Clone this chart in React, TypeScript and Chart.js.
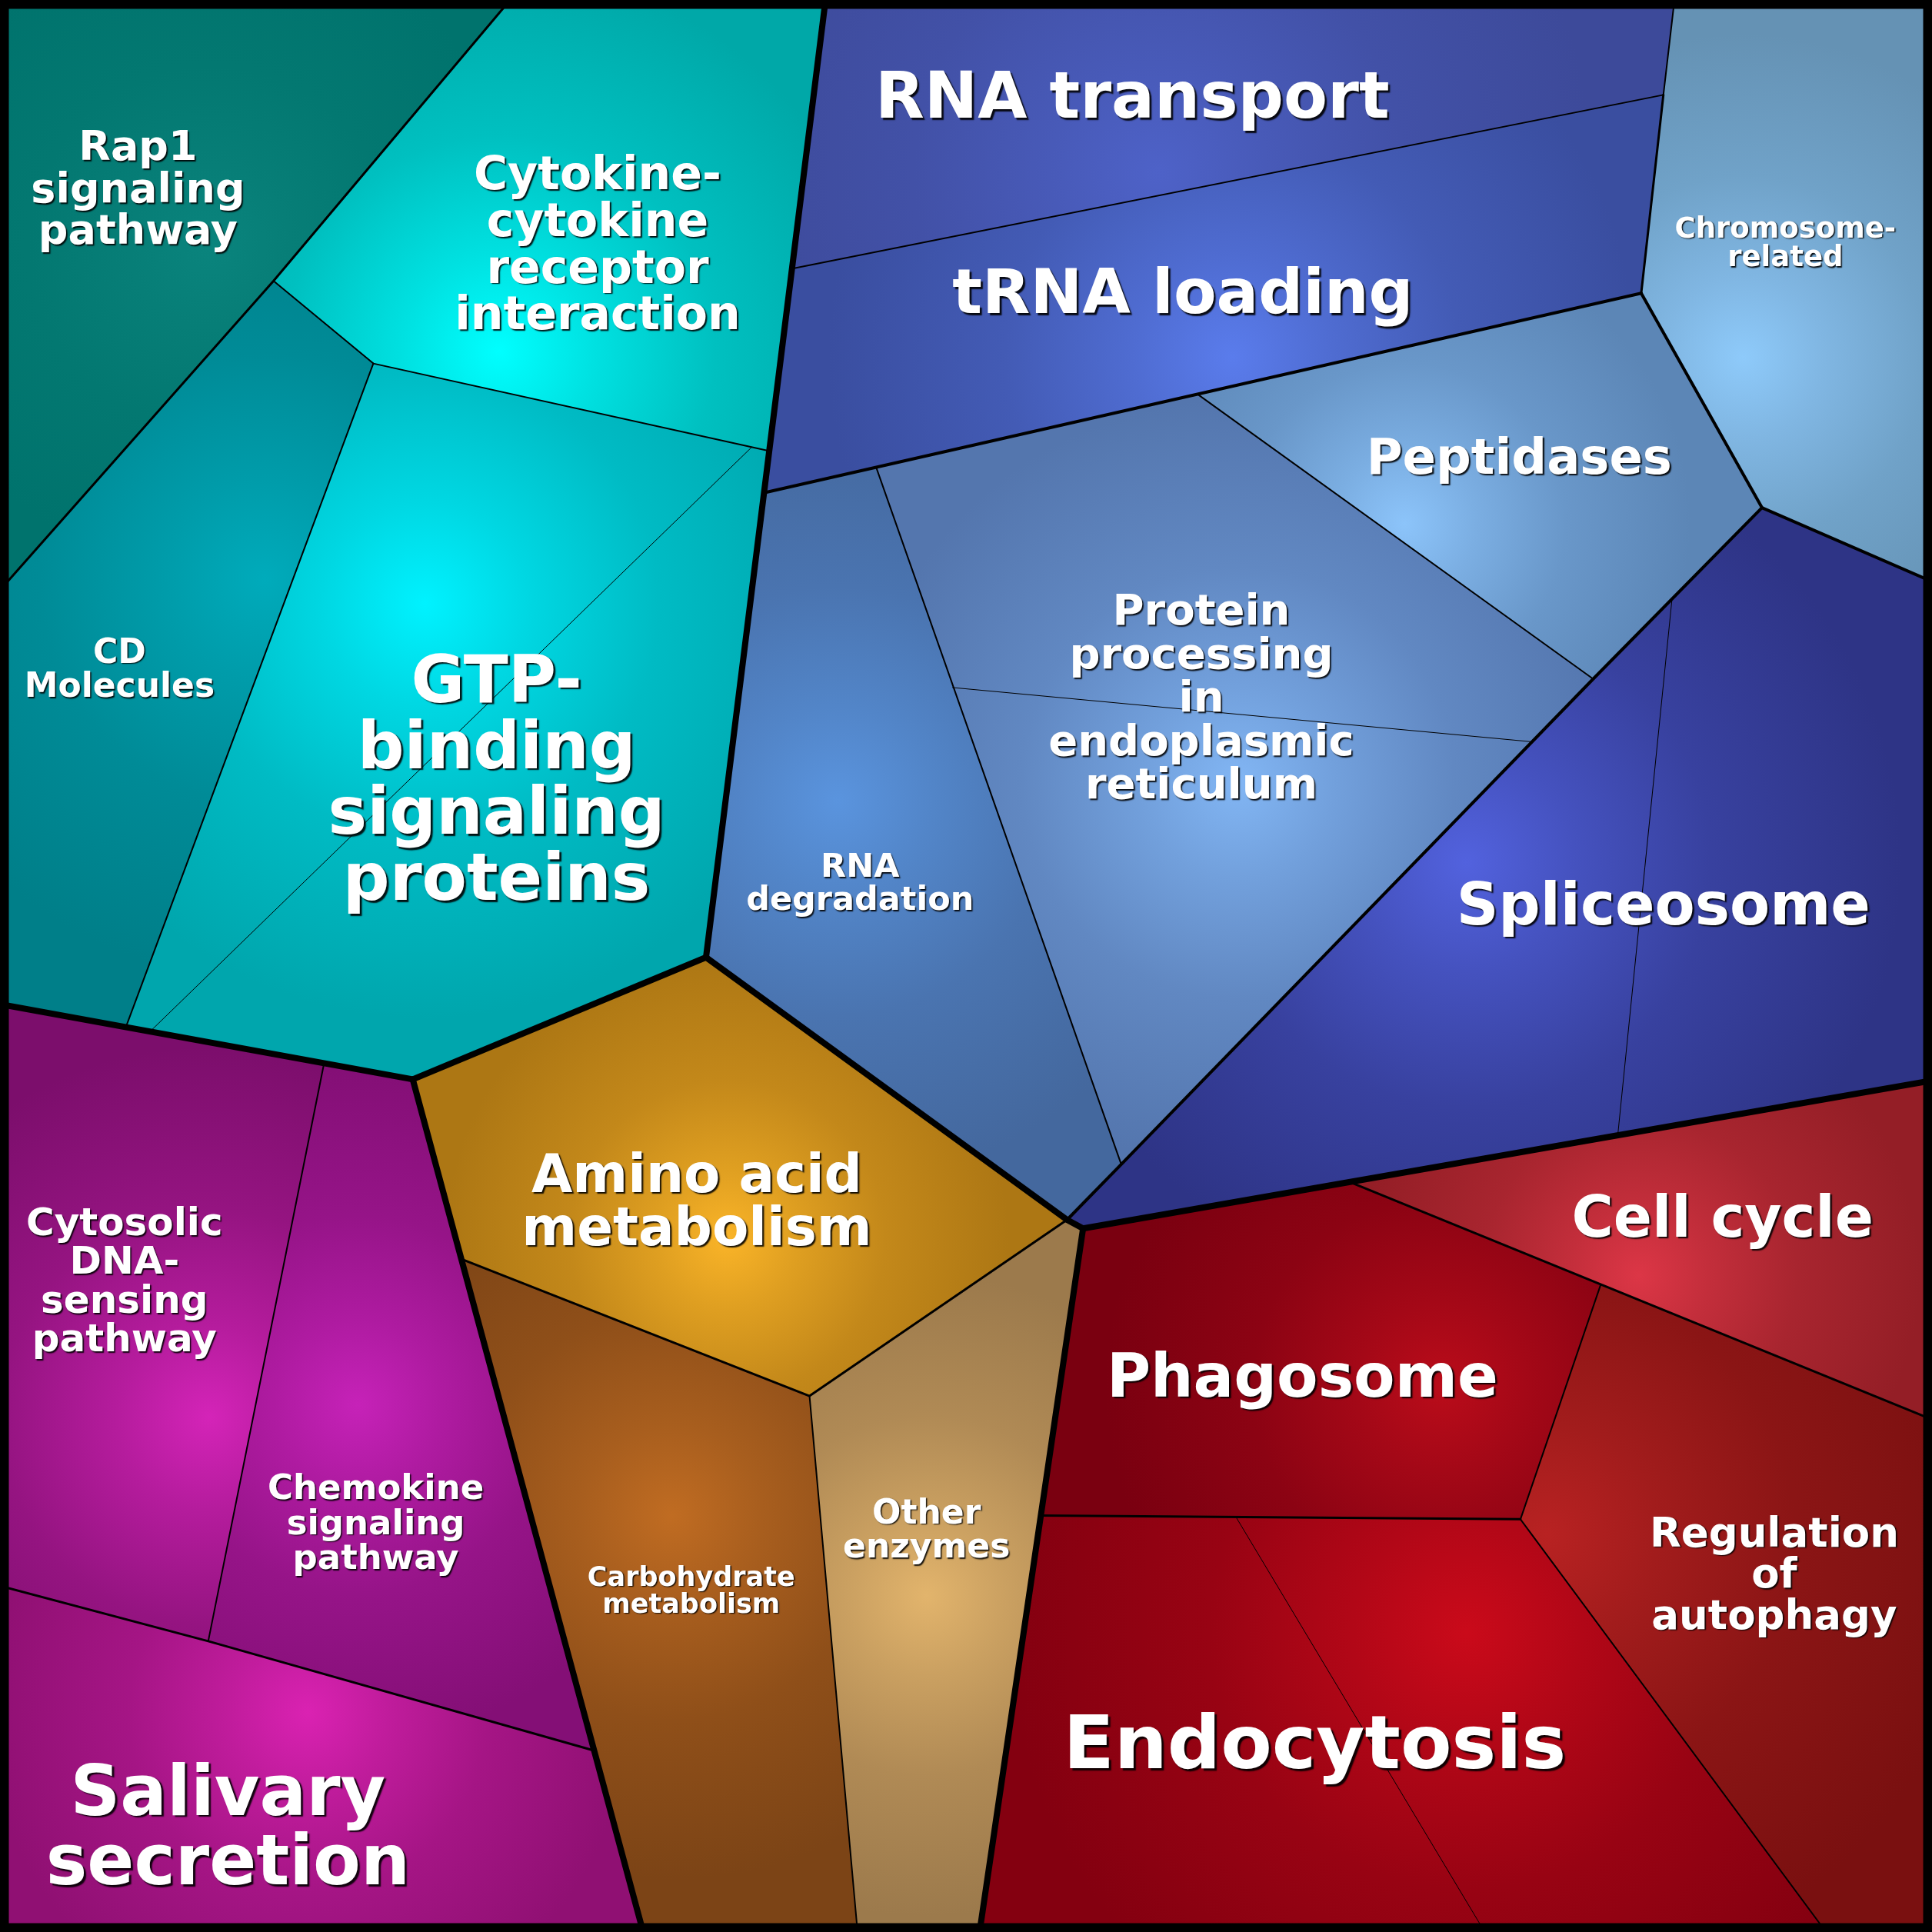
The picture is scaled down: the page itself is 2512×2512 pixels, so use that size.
import { useEffect, useRef } from "react";
import { Chart, registerables } from "chart.js";

Chart.register(...registerables);

// Coordinate space of the diagram (data units)
const VIEW = 1568;

// Voronoi vertices (data units)
const vertices: Record<string, [number, number]> = {
  TL: [0, 0], TR: [1568, 0], BR: [1568, 1568], BL: [0, 1568],
  A: [414, 0], B: [670, 0], C: [222, 228], D: [303, 295], E: [0, 479],
  F: [624, 366], G: [573, 777], H: [335, 876], I: [102, 834], J: [0, 815],
  K: [1359, 0], L: [1350, 77], M: [643, 218], N: [620, 400], O: [1332, 238],
  P: [972, 320], Q: [711, 379], R: [1430, 412], S: [1568, 472], T: [1293, 551],
  U: [910, 945], V: [866, 990], W: [879, 997], X: [1568, 877],
  Y: [657, 1133], Z: [375, 1022], AA: [522, 1568], AB: [696, 1568], AC: [795, 1568],
  AD: [263, 863], AE: [169, 1332], AF: [0, 1287], AG: [483, 1421],
  AH: [1097, 960], AI: [1299, 1043], AJ: [1568, 1152], AK: [1234, 1233],
  AL: [845, 1230], AM: [1482, 1568],
  g1: [122, 837], g2: [610, 363], p1: [773, 558], p2: [1243, 602],
  s1: [1357, 486], s2: [1313, 921], e1: [1003, 1231], e2: [1205, 1568],
};

const cellNames = [
  "Rap1 signaling pathway", "Cytokine-cytokine receptor interaction", "CD Molecules",
  "GTP-binding signaling proteins", "RNA transport", "tRNA loading", "Chromosome-related",
  "Peptidases", "Protein processing in endoplasmic reticulum", "RNA degradation",
  "Spliceosome", "Amino acid metabolism", "Carbohydrate metabolism", "Other enzymes",
  "Cytosolic DNA-sensing pathway", "Chemokine signaling pathway", "Salivary secretion",
  "Cell cycle", "Phagosome", "Endocytosis", "Regulation of autophagy",
];

const cellPolygons = [
  ["TL", "A", "C", "E"],
  ["A", "B", "F", "D", "C"],
  ["E", "C", "D", "I", "J"],
  ["D", "F", "G", "H", "I"],
  ["B", "K", "L", "M"],
  ["M", "L", "O", "P", "Q", "N"],
  ["K", "TR", "S", "R", "O", "L"],
  ["P", "O", "R", "T"],
  ["Q", "P", "T", "U"],
  ["N", "Q", "U", "V", "G"],
  ["T", "R", "S", "X", "W", "V", "U"],
  ["H", "G", "V", "Y", "Z"],
  ["Z", "Y", "AB", "AA"],
  ["Y", "V", "W", "AC", "AB"],
  ["J", "AD", "AE", "AF"],
  ["AD", "H", "AG", "AE"],
  ["AF", "AE", "AG", "AA", "BL"],
  ["AH", "X", "AJ", "AI"],
  ["W", "AH", "AI", "AK", "AL"],
  ["AL", "AK", "AM", "AC"],
  ["AI", "AJ", "BR", "AM", "AK"],
];

// gradient centres (data units)
const cellSites: [number, number][] = [
  [170, 200], [405, 285], [215, 470], [345, 490], [940, 140], [1000, 290], [1415, 290],
  [1140, 425], [1005, 635], [680, 650], [1190, 700], [590, 1005], [545, 1230], [752, 1295],
  [170, 1150], [290, 1140], [250, 1390], [1330, 1035], [1170, 1125], [1190, 1325], [1255, 1245],
];

const cellInner = [
  "#0a847d", "#00ffff", "#00abbb", "#00f2ff", "#4e62c8", "#5a7cec", "#8ecafa",
  "#8cc4fa", "#82b6f4", "#5a94de", "#5262de", "#fab428", "#c06c22", "#e2b46c",
  "#d424b8", "#c622b8", "#da22b2", "#dc3646", "#ba0c1a", "#ca0a1a", "#b82222",
];
const cellOuter = [
  "#00736d", "#00a8a8", "#007f89", "#00a6ad", "#3d4a9a", "#3a4ea0", "#6592b4",
  "#5c86b6", "#5476ae", "#44689e", "#2e3486", "#ad7714", "#7c4416", "#9c7a4c",
  "#7c0e6c", "#840f76", "#901073", "#941e26", "#7a0010", "#840010", "#7a1010",
];

// boundaries, drawn as polylines through vertices
const edgePaths = [
  ["g1", "g2"], ["p1", "p2"], ["s1", "s2"], ["e1", "e2"],
  ["M", "L"], ["K", "L"], ["P", "T"], ["Q", "U"], ["C", "D", "F"], ["D", "I"],
  ["AD", "AE"], ["Y", "AB"], ["AI", "AK", "AM"],
  ["L", "O"], ["A", "C", "E"], ["V", "Y", "Z"], ["AH", "AJ"], ["AL", "AK"], ["AF", "AE", "AG"],
  ["N", "O"], ["S", "R", "T", "U", "V"], ["O", "R"],
  ["J", "H", "G", "V", "W", "X"], ["B", "G"], ["H", "AA"], ["W", "AC"],
  ["TL", "TR", "BR", "BL", "TL"],
];
const edgeWidths = [
  1, 1, 1, 1,
  2, 2, 2, 2, 2, 2,
  2, 2, 2,
  3, 3, 3, 3, 3, 3,
  4, 4, 4,
  8, 8, 8, 8,
  23,
];

const labelLines = [
  ["Rap1", "signaling", "pathway"],
  ["Cytokine-", "cytokine", "receptor", "interaction"],
  ["CD", "Molecules"],
  ["GTP-", "binding", "signaling", "proteins"],
  ["RNA transport"],
  ["tRNA loading"],
  ["Chromosome-", "related"],
  ["Peptidases"],
  ["Protein", "processing", "in", "endoplasmic", "reticulum"],
  ["RNA", "degradation"],
  ["Spliceosome"],
  ["Amino acid", "metabolism"],
  ["Carbohydrate", "metabolism"],
  ["Other", "enzymes"],
  ["Cytosolic", "DNA-", "sensing", "pathway"],
  ["Chemokine", "signaling", "pathway"],
  ["Salivary", "secretion"],
  ["Cell cycle"],
  ["Phagosome"],
  ["Endocytosis"],
  ["Regulation", "of", "autophagy"],
];
const labelX = [112, 485, 97, 403, 919, 960, 1449, 1233, 975, 698, 1350, 565.5, 561, 752, 101, 305, 185, 1398, 1057, 1067, 1440];
const labelY = [152, 197, 542, 631, 77, 236, 196, 370, 565, 715.5, 733, 973.5, 1290, 1240.5, 1038.5, 1235, 1481, 987, 1116, 1413, 1276.5];
const labelSize = [54, 60, 44, 85, 83, 81, 37, 64, 56, 43, 76, 69, 35, 44, 50, 45, 90, 74, 78, 97, 53];

const pt = (id: string) => ({ x: vertices[id][0], y: vertices[id][1] });

function mixHex(a: string, b: string, t: number) {
  const pa = [1, 3, 5].map((k) => parseInt(a.slice(k, k + 2), 16));
  const pb = [1, 3, 5].map((k) => parseInt(b.slice(k, k + 2), 16));
  const m = pa.map((v, k) => Math.round(v + (pb[k] - v) * t));
  return `rgb(${m[0]},${m[1]},${m[2]})`;
}

const labelPlugin = {
  id: "cellLabels",
  afterDatasetsDraw(chart: any) {
    const ctx = chart.ctx;
    const xs = chart.scales.x;
    const ys = chart.scales.y;
    ctx.save();
    ctx.textAlign = "center";
    ctx.textBaseline = "alphabetic";
    ctx.fillStyle = "#ffffff";
    labelLines.forEach((lines, i) => {
      const size = labelSize[i];
      const lh = size * 1.01;
      const cx = xs.getPixelForValue(labelX[i]);
      const cy = ys.getPixelForValue(labelY[i]);
      ctx.font = `bold ${size}px "DejaVu Sans"`;
      ctx.shadowColor = "rgba(0,0,0,0.9)";
      const off = Math.max(1.5, size * 0.032);
      ctx.shadowOffsetX = off;
      ctx.shadowOffsetY = off;
      ctx.shadowBlur = 1.5;
      const n = lines.length;
      lines.forEach((t, k) => {
        const yMid = cy + (k - (n - 1) / 2) * lh;
        ctx.fillText(t, cx, yMid + size * 0.36);
      });
    });
    ctx.restore();
  },
};

export default function App() {
  const ref = useRef<HTMLCanvasElement | null>(null);
  useEffect(() => {
    document.body.style.margin = "0";
    document.body.style.background = "#000";
    if (!ref.current) return;

    const fillSets = cellPolygons.map((poly, i) => {
      const data = [...poly, poly[0]].map(pt);
      return {
        label: cellNames[i],
        data,
        showLine: true,
        fill: "shape",
        tension: 0,
        borderWidth: 0,
        borderColor: "rgba(0,0,0,0)",
        pointRadius: 0,
        order: 100,
        backgroundColor: (c: any) => {
          const chart = c.chart;
          if (!chart.chartArea) return cellInner[i];
          const xs = chart.scales.x;
          const ys = chart.scales.y;
          const sx = xs.getPixelForValue(cellSites[i][0]);
          const sy = ys.getPixelForValue(cellSites[i][1]);
          let r = 1;
          poly.forEach((id) => {
            const px = xs.getPixelForValue(vertices[id][0]);
            const py = ys.getPixelForValue(vertices[id][1]);
            r = Math.max(r, Math.hypot(px - sx, py - sy));
          });
          const g = chart.ctx.createRadialGradient(sx, sy, 0, sx, sy, r);
          g.addColorStop(0, cellInner[i]);
          g.addColorStop(0.2, mixHex(cellInner[i], cellOuter[i], 0.35));
          g.addColorStop(0.45, mixHex(cellInner[i], cellOuter[i], 0.72));
          g.addColorStop(0.8, cellOuter[i]);
          g.addColorStop(1, cellOuter[i]);
          return g;
        },
      };
    });

    const edgeSets = edgePaths.map((path, i) => ({
      label: "edge" + i,
      data: path.map(pt),
      showLine: true,
      fill: false,
      tension: 0,
      borderWidth: edgeWidths[i],
      borderColor: "#000000",
      backgroundColor: "#000000",
      borderCapStyle: "round",
      borderJoinStyle: edgeWidths[i] > 10 ? "miter" : "round",
      pointRadius: 0,
      order: 50 - edgeWidths[i],
    }));

    const chart = new Chart(ref.current, {
      type: "scatter",
      data: { datasets: [...fillSets, ...edgeSets] as any },
      options: {
        animation: false,
        responsive: false,
        devicePixelRatio: 1,
        events: [],
        layout: { padding: 0 },
        scales: {
          x: { type: "linear", min: 0, max: VIEW, display: false },
          y: { type: "linear", min: 0, max: VIEW, reverse: true, display: false },
        },
        plugins: {
          legend: { display: false },
          tooltip: { enabled: false },
        },
      } as any,
      plugins: [labelPlugin],
    });
    return () => chart.destroy();
  }, []);

  return (
    <canvas
      ref={ref}
      width={2512}
      height={2512}
      style={{ display: "block", width: 2512, height: 2512 }}
    />
  );
}
